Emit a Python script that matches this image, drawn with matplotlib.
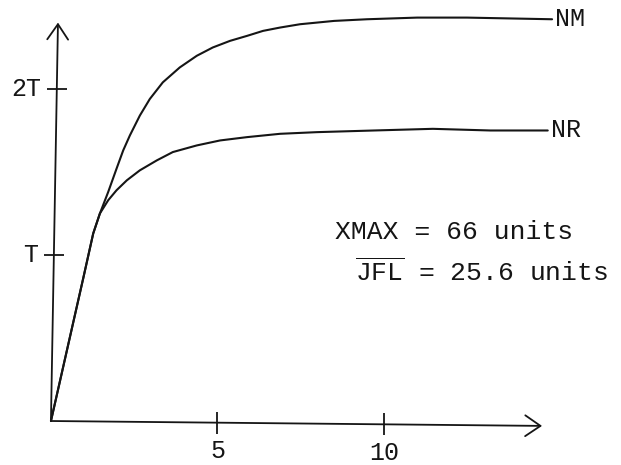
import matplotlib.pyplot as plt

# growth curves, x in time units, y in multiples of T
nm_x = [0.0, 0.62, 0.97, 1.27, 1.47, 1.72, 1.97, 2.17, 2.37, 2.67, 2.97, 3.36,
        3.87, 4.38, 4.86, 5.38, 5.89, 6.37, 6.88, 7.48, 8.5, 9.49, 11.0,
        12.49, 15.05]
nm_y = [0.0, 0.55, 0.86, 1.13, 1.25, 1.38, 1.52, 1.63, 1.72, 1.84, 1.94, 2.04,
        2.13, 2.20, 2.25, 2.29, 2.32, 2.35, 2.37, 2.39, 2.41, 2.42, 2.43,
        2.43, 2.42]
nr_x = [0.0, 0.62, 0.97, 1.27, 1.47, 1.72, 1.97, 2.28, 2.67, 3.18, 3.66, 4.38,
        5.08, 5.89, 6.88, 7.99, 9.7, 11.47, 13.2, 14.92]
nr_y = [0.0, 0.55, 0.86, 1.13, 1.25, 1.33, 1.39, 1.45, 1.51, 1.57, 1.62, 1.66,
        1.69, 1.71, 1.73, 1.74, 1.75, 1.76, 1.75, 1.75]
curve_names = ['NM', 'NR']

x_ticks = [5, 10]
y_ticks = [1, 2]
y_tick_labels = ['T', '2T']

notes = ['XMAX = 66 units', r'$\overline{\mathtt{JFL}}$ = 25.6 units']

ink = '#151515'
mono = 'Liberation Mono'
plt.rcParams['mathtext.fontset'] = 'custom'
plt.rcParams['mathtext.tt'] = mono

# the hand drawn axes lean a little
x_lean = -0.002
y_lean = 0.088
x_end, y_end = 14.75, 2.40

fig = plt.figure(figsize=(6.21, 4.65), dpi=100)
ax = fig.add_axes([0, 0, 1, 1])
ax.set_xlim(-1.53, 17.12)
ax.set_ylim(-0.265, 2.536)
ax.axis('off')

arrow = dict(arrowstyle='->,head_length=1.1,head_width=0.75', lw=1.3,
             color=ink, shrinkA=0, shrinkB=0)
ax.annotate('', xy=(x_end, x_end * x_lean), xytext=(0, 0), arrowprops=arrow)
ax.annotate('', xy=(y_end * y_lean, y_end), xytext=(0, 0), arrowprops=arrow)

ax.plot(x_ticks, [t * x_lean for t in x_ticks], ls='none', marker='|',
        ms=16, mew=1.3, color=ink)
ax.plot([t * y_lean for t in y_ticks], y_ticks, ls='none', marker='_',
        ms=14, mew=1.3, color=ink)

for t in x_ticks:
    ax.annotate(str(t), xy=(t, t * x_lean), xytext=(0, -12),
                textcoords='offset points', ha='center', va='top',
                fontsize=18, family=mono, color=ink)
for t, lab in zip(y_ticks, y_tick_labels):
    ax.annotate(lab, xy=(t * y_lean, t), xytext=(-11, 0),
                textcoords='offset points', ha='right', va='center',
                fontsize=18, family=mono, color=ink)

for xs, ys, name in zip([nm_x, nr_x], [nm_y, nr_y], curve_names):
    ax.plot(xs, ys, color=ink, lw=1.5, solid_joinstyle='round',
            solid_capstyle='round')
    ax.annotate(name, xy=(xs[-1], ys[-1]), xytext=(2, 0),
                textcoords='offset points', ha='left', va='center',
                fontsize=18, family=mono, color=ink)

ax.text(8.53, 1.14, notes[0], ha='left', va='center', fontsize=19,
        family=mono, color=ink)
ax.text(9.13, 0.90, notes[1], ha='left', va='center', fontsize=19,
        family=mono, color=ink)

fig.savefig('out.png', dpi=100, facecolor='white')
